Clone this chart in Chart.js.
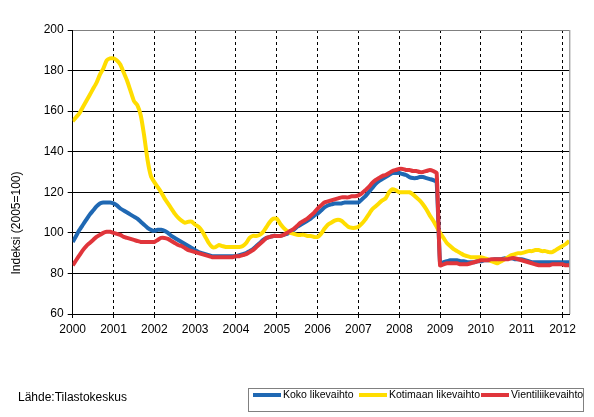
<!DOCTYPE html>
<html>
<head>
<meta charset="utf-8">
<script src="https://cdn.jsdelivr.net/npm/chart.js@4"></script>
<style>
  html, body { margin: 0; padding: 0; background: #fff; }
  #wrap { width: 594px; height: 417px; }
</style>
</head>
<body>
<div id="wrap"><canvas id="myChart"></canvas></div>
<script>
// Tick labels (one per January) and monthly index values, 1/2000 - 3/2012
var years = ["2000", "2001", "2002", "2003", "2004", "2005", "2006",
             "2007", "2008", "2009", "2010", "2011", "2012"];

var kokoLikevaihto = [
  95.5, 98.5, 101.5, 104, 106.5, 109, 111, 113, 114.5, 115, 115, 115,
  114.5, 113.5, 112, 111, 110, 109, 108, 107, 105.5, 104, 102.5, 101.5,
  101, 101.5, 101.5, 101, 100, 98.5, 97.5, 96.5, 95.5, 94.5, 93.5, 92.5,
  91.5, 90.5, 90, 89.5, 89, 88.5, 88.5, 88.5, 88.5, 88.5, 88.5, 88.5,
  88.5, 89, 89.5, 90, 91, 92, 93.5, 95, 96.5, 97.5, 98, 98.5,
  98.5, 98.5, 99, 99.5, 100.5, 101.5, 103, 104, 105, 106, 107, 108.5,
  109.5, 111, 112.5, 113.5, 114, 114.5, 114.5, 114.5, 115, 115, 115, 115,
  115, 116.5, 118, 120, 122, 124, 125.5, 126.5, 127.5, 128.5, 129.5, 129.5,
  129.5, 129, 128.5, 127.5, 127, 127, 127.5, 127.5, 127, 126.5, 126, 125,
  85, 85.5, 86, 86.5, 86.5, 86.5, 86, 86, 85.5, 85.5, 85.5, 86,
  86, 86.5, 86.5, 86.5, 87, 87, 87, 87.5, 87.5, 87.5, 87, 87,
  87, 86.5, 86, 85.5, 85.5, 85.5, 85.5, 85.5, 85.5, 85.5, 85.5, 85.5,
  85.5, 85.5, 85.5
];

var kotimaanLikevaihto = [
  155, 157, 159, 162, 165, 168, 171, 174, 178, 181, 185, 186,
  186, 185, 183, 179, 175, 170, 165, 163, 158, 148, 136, 128,
  125, 122.5, 120, 117, 114.5, 112, 109.5, 107.5, 106, 105, 105.5, 105.5,
  104, 103, 101, 98, 95, 93, 93, 94, 93.5, 93, 93, 93,
  93, 93, 93.5, 95, 97.5, 98.5, 98.5, 99, 100.5, 103, 105.5, 107,
  107, 104.5, 102.5, 101, 100, 99.5, 99, 99, 99, 98.5, 98.5, 98,
  98, 99.5, 102, 104, 105, 106, 106.5, 106, 104.5, 103, 102.5, 102.5,
  103, 104.5, 106.5, 109, 111.5, 113, 114.5, 116, 117, 120, 121.5, 121,
  120, 120, 120, 120, 119, 117.5, 116, 114, 111.5, 108.5, 106, 103,
  100, 97.5, 95, 93.5, 92, 91, 90, 89, 88.5, 88, 88, 88,
  88, 87.5, 87, 86, 85.5, 85, 86, 87, 88, 89, 89.5, 90,
  90, 90.5, 91, 91, 91.5, 91.5, 91, 91, 90.5, 90.5, 91.5, 92.5,
  93.5, 94.5, 96
];

var vientiliikevaihto = [
  84, 86.5, 89, 91.5, 93.5, 95, 96.5, 98, 99, 100, 100.5, 100.5,
  100, 99.5, 99, 98, 97.5, 97, 96.5, 96, 95.5, 95.5, 95.5, 95.5,
  95.5, 96.5, 97.5, 97.5, 97, 96, 95, 94, 93.5, 92.5, 91.5, 91,
  90.5, 90, 89.5, 89, 88.5, 88, 88, 88, 88, 88, 88, 88,
  88.5, 88.5, 89, 89.5, 90.5, 91.5, 93, 94.5, 96, 97.5, 98, 98.5,
  98.5, 98.5, 99, 100, 101, 102, 103.5, 105, 106, 107, 108.5, 110,
  112, 113.5, 115, 115.5, 116, 116.5, 117, 117.5, 117.5, 117.5, 118, 118,
  118.5, 119.5, 121, 122.5, 124.5, 126, 127, 128, 128.5, 129.5, 130.5, 131,
  131.5, 131.5, 131, 131, 130.5, 130.5, 130, 130, 130.5, 131, 130.5, 129.5,
  84, 84.5, 85, 85, 85, 85, 84.5, 84.5, 84.5, 85, 85.5, 86,
  86.5, 86.5, 86.5, 87, 87, 87, 87, 87, 87, 87.5, 87.5, 87,
  86.5, 86, 85.5, 85, 84.5, 84, 84, 84, 84, 84.5, 84.5, 84.5,
  84.5, 84, 84
];

var FONT = "'Liberation Sans', Arial, sans-serif";

function toPoints(arr) {
  return arr.map(function (v, i) { return { x: i, y: v }; });
}

// y-axis title, right border, source text and boxed legend
var extras = {
  id: "extras",
  afterDraw: function (chart) {
    var c = chart.ctx;
    var a = chart.chartArea;
    c.save();
    c.strokeStyle = "#808080";
    c.lineWidth = 1;
    c.beginPath();
    c.moveTo(a.right + 0.5, a.top);
    c.lineTo(a.right + 0.5, a.bottom);
    c.stroke();

    c.fillStyle = "#000";
    c.font = "12px " + FONT;
    c.textBaseline = "middle";
    c.save();
    c.translate(17, 223);
    c.rotate(-Math.PI / 2);
    c.textAlign = "center";
    c.fillText("Indeksi (2005=100)", 0, 0);
    c.restore();

    c.textAlign = "left";
    c.fillText("Lähde:Tilastokeskus", 18, 398);

    // legend
    c.strokeStyle = "#808080";
    c.lineWidth = 1;
    c.strokeRect(248.5, 388.5, 335, 23);
    c.font = "10.5px " + FONT;
    var starts = [253, 359, 481];
    chart.data.datasets.forEach(function (ds, i) {
      var x = starts[i];
      c.strokeStyle = ds.borderColor;
      c.lineWidth = 4;
      c.beginPath();
      c.moveTo(x, 395);
      c.lineTo(x + 28, 395);
      c.stroke();
      c.fillStyle = "#000";
      c.fillText(ds.label, x + 30, 395);
    });
    c.restore();
  }
};

var ctx = document.getElementById("myChart").getContext("2d");
var myChart = new Chart(ctx, {
  type: "line",
  data: {
    datasets: [
      { label: "Koko likevaihto", data: toPoints(kokoLikevaihto), borderColor: "#1f68b3", order: 2 },
      { label: "Kotimaan likevaihto", data: toPoints(kotimaanLikevaihto), borderColor: "#ffdd00", order: 1 },
      { label: "Vientiliikevaihto", data: toPoints(vientiliikevaihto), borderColor: "#e0353b", order: 0 }
    ]
  },
  options: {
    responsive: true,
    maintainAspectRatio: false,
    animation: false,
    layout: { padding: { left: 0, right: 24.7, top: 30, bottom: 73 } },
    elements: {
      point: { radius: 0 },
      line: { borderWidth: 4, tension: 0.15, fill: false }
    },
    plugins: { legend: { display: false }, tooltip: { enabled: false } },
    scales: {
      x: {
        type: "linear",
        min: 0,
        max: kokoLikevaihto.length - 1,
        afterBuildTicks: function (scale) {
          scale.ticks = years.map(function (y, i) { return { value: i * 12 }; });
        },
        afterFit: function (scale) { scale.height = 30; },
        ticks: {
          autoSkip: false,
          maxRotation: 0,
          padding: 4,
          color: "#000",
          font: { family: FONT, size: 12 },
          callback: function (v) { return years[Math.round(v / 12)]; }
        },
        grid: {
          color: "#000",
          lineWidth: 1,
          tickLength: 4,
          tickColor: "#000"
        },
        border: { display: true, color: "#000", dash: [3, 3] }
      },
      y: {
        min: 60,
        max: 200,
        afterFit: function (scale) { scale.width = 72.7; },
        ticks: {
          stepSize: 20,
          padding: 4,
          color: "#000",
          font: { family: FONT, size: 12 }
        },
        grid: {
          color: function (c) { return c.tick && c.tick.value === 200 ? "#808080" : "#000"; },
          lineWidth: 1,
          tickLength: 5,
          tickColor: "#000"
        },
        border: { display: true, color: "#000" }
      }
    }
  },
  plugins: [extras]
});
</script>
</body>
</html>
